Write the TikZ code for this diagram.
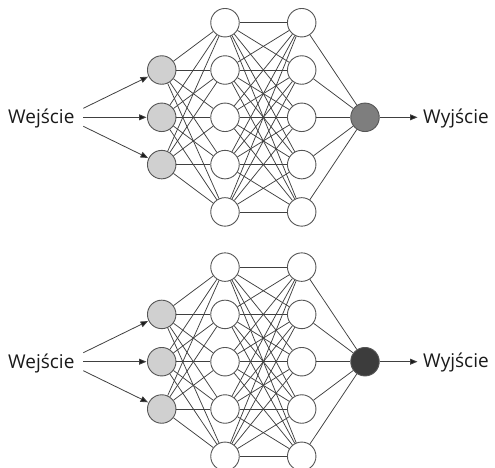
\documentclass[tikz,border=0pt]{standalone}
\usepackage{fontspec}
\setmainfont{Open Sans}
\usetikzlibrary{arrows.meta}

\definecolor{edgegray}{HTML}{404040}
\definecolor{rimgray}{HTML}{555555}
\definecolor{ingray}{HTML}{D0D0D0}
\definecolor{outmid}{HTML}{7E7E7E}
\definecolor{outdark}{HTML}{3C3C3C}
\definecolor{inkblack}{HTML}{1A1A1A}

\tikzset{
  neuron/.style={circle, draw=rimgray, line width=0.9pt, fill=white,
                 minimum size=28.5pt, inner sep=0pt},
  inneuron/.style={neuron, fill=ingray},
  link/.style={draw=edgegray, line width=0.75pt},
  feed/.style={draw=edgegray, line width=0.8pt,
               -{Triangle[length=7.5pt,width=6pt,fill=inkblack]}, shorten >=0.5pt},
  label/.style={anchor=base west, inner sep=0pt, text=inkblack,
                font=\fontsize{19}{21}\selectfont}
}

% #1 name prefix, #2 vertical offset, #3 fill of the output neuron
\newcommand{\netpic}[3]{%
  \begin{scope}[yshift=-#2pt]
    % layers
    \foreach \k [evaluate=\k as \yy using 117.3+(\k-2)*47.3] in {1,2,3}
      \node[inneuron] (#1i\k) at (161.7,\yy) {};
    \foreach \k [evaluate=\k as \yy using 117.3+(\k-3)*47.3] in {1,...,5} {
      \node[neuron] (#1a\k) at (225,\yy) {};
      \node[neuron] (#1b\k) at (301.7,\yy) {};
    }
    \node[neuron, fill=#3] (#1o) at (365,117.3) {};
    % fully connected links
    \foreach \p in {1,2,3}
      \foreach \q in {1,...,5}
        \draw[link] (#1i\p) -- (#1a\q);
    \foreach \p in {1,...,5}
      \foreach \q in {1,...,5}
        \draw[link] (#1a\p) -- (#1b\q);
    \foreach \p in {1,...,5}
      \draw[link] (#1b\p) -- (#1o);
    % input side
    \node[label] (#1in) at (8,123.8) {Wejście};
    \coordinate (#1s1) at (83.3,108.3);
    \coordinate (#1s2) at (83.3,117.3);
    \coordinate (#1s3) at (83.3,126.3);
    \foreach \k in {1,2,3}
      \draw[feed] (#1s\k) -- (#1i\k);
    % output side
    \coordinate (#1e) at (418,117.3);
    \draw[feed] (#1o) -- (#1e);
    \node[label] (#1out) at (423,123.3) {Wyjście};
  \end{scope}
}

\begin{document}
\begin{tikzpicture}[x=1pt, y=-1pt]
  \useasboundingbox (0,0) rectangle (495,467);
  \netpic{t}{0}{outmid}
  \netpic{u}{244.4}{outdark}
\end{tikzpicture}
\end{document}
